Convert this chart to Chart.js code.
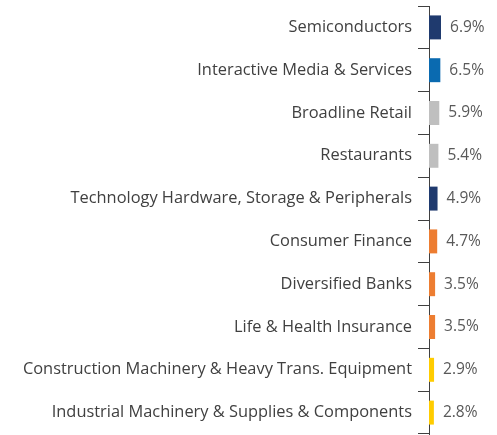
<!DOCTYPE html>
<html>
<head>
<meta charset="utf-8">
<script src="https://cdn.jsdelivr.net/npm/chart.js@4/dist/chart.umd.min.js"></script>
<style>
  html, body { margin: 0; padding: 0; background: #ffffff; }
  #wrap { width: 497px; height: 435px; position: relative; }
</style>
</head>
<body>
<div id="wrap"><canvas id="c"></canvas></div>
<script>
const categories = [
  "Semiconductors",
  "Interactive Media & Services",
  "Broadline Retail",
  "Restaurants",
  "Technology Hardware, Storage & Peripherals",
  "Consumer Finance",
  "Diversified Banks",
  "Life & Health Insurance",
  "Construction Machinery & Heavy Trans. Equipment",
  "Industrial Machinery & Supplies & Components"
];
const values = [6.9, 6.5, 5.9, 5.4, 4.9, 4.7, 3.5, 3.5, 2.9, 2.8];
const valueLabels = ["6.9%", "6.5%", "5.9%", "5.4%", "4.9%", "4.7%", "3.5%", "3.5%", "2.9%", "2.8%"];
const barColors = ["#1F3A6E", "#0A6AB0", "#BFBFBF", "#BFBFBF", "#1F3A6E", "#ED7D31", "#ED7D31", "#ED7D31", "#FFCC00", "#FFCC00"];

const FONT = "'Open Sans', 'Noto Sans', sans-serif";

const valueLabelPlugin = {
  id: 'valueLabels',
  afterDatasetsDraw(chart) {
    const ctx = chart.ctx;
    const meta = chart.getDatasetMeta(0);
    ctx.save();
    ctx.font = "15.5px " + FONT;
    ctx.fillStyle = "#595959";
    ctx.textAlign = "left";
    ctx.textBaseline = "middle";
    meta.data.forEach((bar, i) => {
      ctx.fillText(valueLabels[i], bar.x + 9, bar.y);
    });
    ctx.restore();
  }
};

new Chart(document.getElementById('c'), {
  type: 'bar',
  data: {
    labels: categories,
    datasets: [{
      data: values,
      backgroundColor: barColors,
      borderWidth: 0,
      barPercentage: 0.56,
      categoryPercentage: 1.0
    }]
  },
  options: {
    indexAxis: 'y',
    responsive: true,
    maintainAspectRatio: false,
    animation: false,
    layout: { padding: { top: 6, bottom: 1, left: 0, right: 0 } },
    plugins: {
      legend: { display: false },
      tooltip: { enabled: false }
    },
    scales: {
      x: {
        display: false,
        min: 0,
        max: 39
      },
      y: {
        afterFit(scale) {
          scale.width = 429;
          scale.paddingTop = 0;
          scale.paddingBottom = 0;
        },
        border: { display: true, color: '#404040', width: 1 },
        grid: {
          offset: true,
          drawOnChartArea: false,
          drawTicks: true,
          tickLength: 11,
          color: '#404040'
        },
        ticks: {
          padding: 6,
          color: '#404040',
          font: { family: FONT, size: 16.4 }
        }
      }
    }
  },
  plugins: [valueLabelPlugin]
});
</script>
</body>
</html>
